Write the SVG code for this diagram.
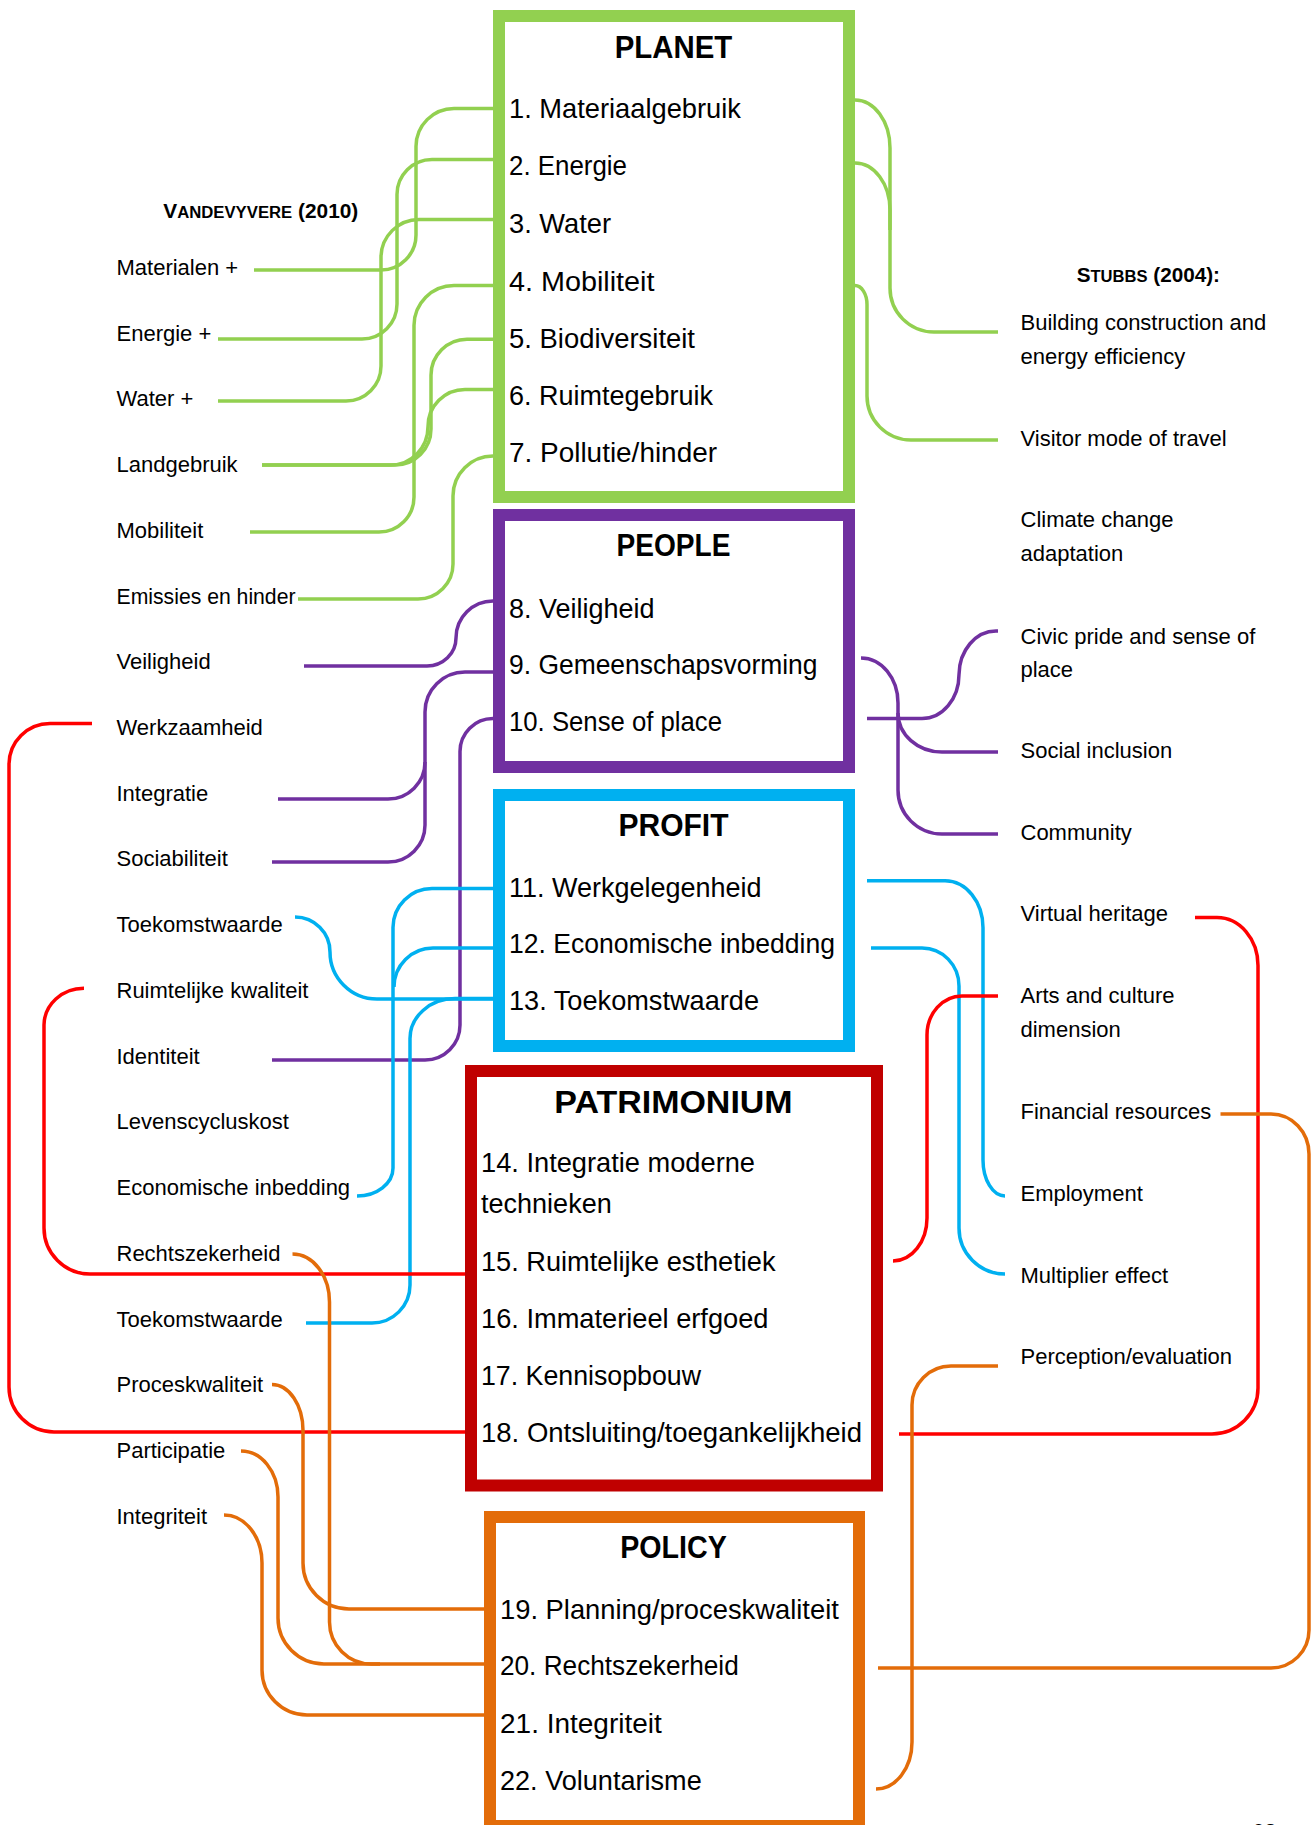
<svg xmlns="http://www.w3.org/2000/svg" width="1312" height="1825" viewBox="0 0 1312 1825">
  <style>
    text { font-family: "Liberation Sans", Arial, sans-serif; fill: #000; }
    .lbl { font-size: 22px; }
    .item { font-size: 27.5px; }
    .title { font-size: 31px; font-weight: bold; text-anchor: middle; }
    .head { font-weight: bold; }
    .box { fill: #fff; stroke-width: 12; }
    .c { fill: none; stroke-width: 3.5; stroke-linejoin: round; }
    .g { stroke: #92D050; }
    .p { stroke: #7030A0; }
    .b { stroke: #00B0F0; }
    .r { stroke: #FF0000; }
    .o { stroke: #E36C09; }
  </style>
  <rect width="1312" height="1825" fill="#fff"/>

  <!-- connectors -->
  <g id="connectors">
    <!-- planet, left -->
    <path class="c g" d="M 493 108.5 H 454 A 38 38 0 0 0 416 146.5 V 235 A 35 35 0 0 1 381 270 H 254"/>
    <path class="c g" d="M 493 159.5 H 432 A 35 35 0 0 0 397 194.5 V 304 A 35 35 0 0 1 362 339 H 218"/>
    <path class="c g" d="M 493 219.5 H 419 A 38 38 0 0 0 381 257.5 V 366 A 35 35 0 0 1 346 401 H 218"/>
    <path class="c g" d="M 493 285.5 H 454 A 40 40 0 0 0 414 325.5 V 497 A 35 35 0 0 1 379 532 H 250"/>
    <path class="c g" d="M 493 339.3 H 467 A 36 36 0 0 0 431 375.3 V 429 A 36 36 0 0 1 395 465 H 262"/>
    <path class="c g" d="M 493 389.5 H 465 A 37 37 0 0 0 428 426.5 A 37 38.5 0 0 1 391 465 H 262"/>
    <path class="c g" d="M 493 456 A 40 40 0 0 0 453 496 V 564 A 35 35 0 0 1 418 599 H 298"/>
    <!-- planet, right -->
    <path class="c g" d="M 855 100 A 35 48 0 0 1 890 148 V 288 A 44 44 0 0 0 934 332 H 998"/>
    <path class="c g" d="M 855 163 A 35 47 0 0 1 890 210 V 230"/>
    <path class="c g" d="M 855 285.5 A 12 19 0 0 1 867 304.5 V 396 A 44 44 0 0 0 911 440 H 998"/>

    <!-- people, left -->
    <path class="c p" d="M 493 601 A 37 37 0 0 0 456 638 A 29 28 0 0 1 427 666 H 304"/>
    <path class="c p" d="M 493 672 H 465 A 40 40 0 0 0 425 712 V 825 A 37 37 0 0 1 388 862 H 272"/>
    <path class="c p" d="M 425 762 A 37 37 0 0 1 388 799 H 278"/>
    <path class="c p" d="M 493 718.6 A 33 33 0 0 0 460 751.6 V 1025 A 35 35 0 0 1 425 1060 H 272"/>
    <!-- people, right -->
    <path class="c p" d="M 867 718.6 H 922 A 37 44 0 0 0 959 674.6 A 37 44 0 0 1 996 631 H 998"/>
    <path class="c p" d="M 861 658 A 37 45 0 0 1 898 703 V 790 A 44 44 0 0 0 942 834 H 998"/>
    <path class="c p" d="M 898 713 A 44 39 0 0 0 942 752 H 998"/>

    <!-- profit, left -->
    <path class="c b" d="M 493 888.6 H 432 A 39 39 0 0 0 393 927.6 V 1168 A 36 28 0 0 1 357 1196"/>
    <path class="c b" d="M 493 948 H 433 A 39 39 0 0 0 394 987"/>
    <path class="c b" d="M 295 917 A 35 35 0 0 1 330 952 A 47 47 0 0 0 377 999 H 493"/>
    <path class="c b" d="M 493 998.6 H 455 A 45 40 0 0 0 410 1039 V 1285 A 38 38 0 0 1 372 1323 H 306"/>
    <!-- profit, right -->
    <path class="c b" d="M 867 880.7 H 945 A 38 47 0 0 1 983 928 V 1160 A 22 36 0 0 0 1005 1196"/>
    <path class="c b" d="M 871 948 H 922 A 37 38 0 0 1 959 986 V 1228 A 46 46 0 0 0 1005 1274"/>

    <!-- patrimonium -->
    <path class="c r" d="M 92 723.4 H 50 A 41 41 0 0 0 9 764.4 V 1387 A 45 45 0 0 0 54 1432 H 471"/>
    <path class="c r" d="M 84 988.3 A 40 37 0 0 0 44 1025 V 1228 A 46 46 0 0 0 90 1274 H 471"/>
    <path class="c r" d="M 1195 917.5 H 1217 A 41 48 0 0 1 1258 965.5 V 1388 A 46 46 0 0 1 1212 1434 H 899"/>
    <path class="c r" d="M 998 996 H 962 A 35 39 0 0 0 927 1035 V 1218 A 34 43 0 0 1 893 1261"/>

    <!-- policy, left -->
    <path class="c o" d="M 292.5 1254 A 37 48 0 0 1 329.5 1302 V 1622 A 42 42 0 0 0 371.5 1664 H 484"/>
    <path class="c o" d="M 272 1384.5 A 31 46 0 0 1 303 1430.5 V 1563 A 46 46 0 0 0 349 1609 H 484"/>
    <path class="c o" d="M 241 1451 A 37 46 0 0 1 278 1497 V 1618 A 46 46 0 0 0 324 1664 H 380"/>
    <path class="c o" d="M 224 1515 A 38 48 0 0 1 262 1563 V 1670 A 45 45 0 0 0 307 1715 H 484"/>
    <!-- policy, right -->
    <path class="c o" d="M 1220.5 1114 H 1271 A 38 40 0 0 1 1309 1154 V 1630 A 38 38 0 0 1 1271 1668 H 878"/>
    <path class="c o" d="M 998 1366 H 951 A 39 39 0 0 0 912 1405 V 1742 A 36 47 0 0 1 876 1789"/>
  </g>

  <!-- PLANET -->
  <g id="planet">
    <rect class="box" x="499" y="16" width="350" height="481" stroke="#92D050"/>
    <text class="title" x="673.5" y="58" textLength="117.5" lengthAdjust="spacingAndGlyphs">PLANET</text>
    <text class="item" x="509" y="117.8" textLength="232" lengthAdjust="spacingAndGlyphs">1. Materiaalgebruik</text>
    <text class="item" x="509" y="175.2" textLength="118" lengthAdjust="spacingAndGlyphs">2. Energie</text>
    <text class="item" x="509" y="233.3" textLength="102" lengthAdjust="spacingAndGlyphs">3. Water</text>
    <text class="item" x="509" y="290.6" textLength="145.5" lengthAdjust="spacingAndGlyphs">4. Mobiliteit</text>
    <text class="item" x="509" y="348" textLength="186" lengthAdjust="spacingAndGlyphs">5. Biodiversiteit</text>
    <text class="item" x="509" y="404.5" textLength="204" lengthAdjust="spacingAndGlyphs">6. Ruimtegebruik</text>
    <text class="item" x="509" y="461.8" textLength="208" lengthAdjust="spacingAndGlyphs">7. Pollutie/hinder</text>
  </g>

  <!-- PEOPLE -->
  <g id="people">
    <rect class="box" x="499" y="515" width="350" height="252" stroke="#7030A0"/>
    <text class="title" x="673.5" y="555.6" textLength="114" lengthAdjust="spacingAndGlyphs">PEOPLE</text>
    <text class="item" x="509" y="617.6" textLength="145.5" lengthAdjust="spacingAndGlyphs">8. Veiligheid</text>
    <text class="item" x="509" y="674" textLength="308.5" lengthAdjust="spacingAndGlyphs">9. Gemeenschapsvorming</text>
    <text class="item" x="509" y="730.5" textLength="213" lengthAdjust="spacingAndGlyphs">10. Sense of place</text>
  </g>

  <!-- PROFIT -->
  <g id="profit">
    <rect class="box" x="499" y="795" width="350" height="251" stroke="#00B0F0"/>
    <text class="title" x="673.5" y="836" textLength="110" lengthAdjust="spacingAndGlyphs">PROFIT</text>
    <text class="item" x="509" y="896.6" textLength="252.6" lengthAdjust="spacingAndGlyphs">11. Werkgelegenheid</text>
    <text class="item" x="509" y="953" textLength="326" lengthAdjust="spacingAndGlyphs">12. Economische inbedding</text>
    <text class="item" x="509" y="1010" textLength="250" lengthAdjust="spacingAndGlyphs">13. Toekomstwaarde</text>
  </g>

  <!-- PATRIMONIUM -->
  <g id="patrimonium">
    <rect class="box" x="471" y="1071" width="406" height="414.5" stroke="#C00000"/>
    <text class="title" x="673.5" y="1112.7" textLength="238.3" lengthAdjust="spacingAndGlyphs">PATRIMONIUM</text>
    <text class="item" x="481" y="1172" textLength="274" lengthAdjust="spacingAndGlyphs">14. Integratie moderne</text>
    <text class="item" x="481" y="1213.3" textLength="130.7" lengthAdjust="spacingAndGlyphs">technieken</text>
    <text class="item" x="481" y="1271" textLength="294.5" lengthAdjust="spacingAndGlyphs">15. Ruimtelijke esthetiek</text>
    <text class="item" x="481" y="1328" textLength="287.5" lengthAdjust="spacingAndGlyphs">16. Immaterieel erfgoed</text>
    <text class="item" x="481" y="1385" textLength="220" lengthAdjust="spacingAndGlyphs">17. Kennisopbouw</text>
    <text class="item" x="481" y="1442" textLength="381" lengthAdjust="spacingAndGlyphs">18. Ontsluiting/toegankelijkheid</text>
  </g>

  <!-- POLICY -->
  <g id="policy">
    <rect class="box" x="490" y="1517" width="369" height="309" stroke="#E36C09"/>
    <text class="title" x="673.5" y="1557.5" textLength="106.5" lengthAdjust="spacingAndGlyphs">POLICY</text>
    <text class="item" x="500" y="1618.5" textLength="338.8" lengthAdjust="spacingAndGlyphs">19. Planning/proceskwaliteit</text>
    <text class="item" x="500" y="1675" textLength="238.7" lengthAdjust="spacingAndGlyphs">20. Rechtszekerheid</text>
    <text class="item" x="500" y="1733" textLength="161.8" lengthAdjust="spacingAndGlyphs">21. Integriteit</text>
    <text class="item" x="500" y="1790" textLength="201.7" lengthAdjust="spacingAndGlyphs">22. Voluntarisme</text>
  </g>

  <!-- Vandevyvere (2010) criteria -->
  <g id="vandevyvere">
    <text class="head" x="163.3" y="218.3" textLength="195" lengthAdjust="spacingAndGlyphs"><tspan font-size="20">V</tspan><tspan font-size="16">ANDEVYVERE</tspan><tspan font-size="20"> (2010)</tspan></text>
    <text class="lbl" x="116.5" y="274.8">Materialen +</text>
    <text class="lbl" x="116.5" y="340.5">Energie +</text>
    <text class="lbl" x="116.5" y="406.3">Water +</text>
    <text class="lbl" x="116.5" y="472">Landgebruik</text>
    <text class="lbl" x="116.5" y="537.7">Mobiliteit</text>
    <text class="lbl" x="116.5" y="603.5" textLength="179" lengthAdjust="spacingAndGlyphs">Emissies en hinder</text>
    <text class="lbl" x="116.5" y="669.2">Veiligheid</text>
    <text class="lbl" x="116.5" y="734.9">Werkzaamheid</text>
    <text class="lbl" x="116.5" y="800.6">Integratie</text>
    <text class="lbl" x="116.5" y="866.4">Sociabiliteit</text>
    <text class="lbl" x="116.5" y="932.1">Toekomstwaarde</text>
    <text class="lbl" x="116.5" y="997.8">Ruimtelijke kwaliteit</text>
    <text class="lbl" x="116.5" y="1063.6">Identiteit</text>
    <text class="lbl" x="116.5" y="1129.3">Levenscycluskost</text>
    <text class="lbl" x="116.5" y="1195">Economische inbedding</text>
    <text class="lbl" x="116.5" y="1260.8">Rechtszekerheid</text>
    <text class="lbl" x="116.5" y="1326.5">Toekomstwaarde</text>
    <text class="lbl" x="116.5" y="1392.2">Proceskwaliteit</text>
    <text class="lbl" x="116.5" y="1458">Participatie</text>
    <text class="lbl" x="116.5" y="1523.7">Integriteit</text>
  </g>

  <!-- Stubbs (2004) criteria -->
  <g id="stubbs">
    <text class="head" x="1076.7" y="281.7" textLength="143.3" lengthAdjust="spacingAndGlyphs"><tspan font-size="20">S</tspan><tspan font-size="16">TUBBS</tspan><tspan font-size="20"> (2004):</tspan></text>
    <text class="lbl" x="1020.5" y="330">Building construction and</text>
    <text class="lbl" x="1020.5" y="363.8">energy efficiency</text>
    <text class="lbl" x="1020.5" y="446">Visitor mode of travel</text>
    <text class="lbl" x="1020.5" y="527">Climate change</text>
    <text class="lbl" x="1020.5" y="560.7">adaptation</text>
    <text class="lbl" x="1020.5" y="643.5">Civic pride and sense of</text>
    <text class="lbl" x="1020.5" y="677">place</text>
    <text class="lbl" x="1020.5" y="758">Social inclusion</text>
    <text class="lbl" x="1020.5" y="840.4">Community</text>
    <text class="lbl" x="1020.5" y="921">Virtual heritage</text>
    <text class="lbl" x="1020.5" y="1003">Arts and culture</text>
    <text class="lbl" x="1020.5" y="1037">dimension</text>
    <text class="lbl" x="1020.5" y="1119">Financial resources</text>
    <text class="lbl" x="1020.5" y="1201">Employment</text>
    <text class="lbl" x="1020.5" y="1282.5">Multiplier effect</text>
    <text class="lbl" x="1020.5" y="1364">Perception/evaluation</text>
  </g>

  <!-- page number, cut by the lower edge -->
  <text class="lbl" x="1252" y="1839">63</text>
</svg>
